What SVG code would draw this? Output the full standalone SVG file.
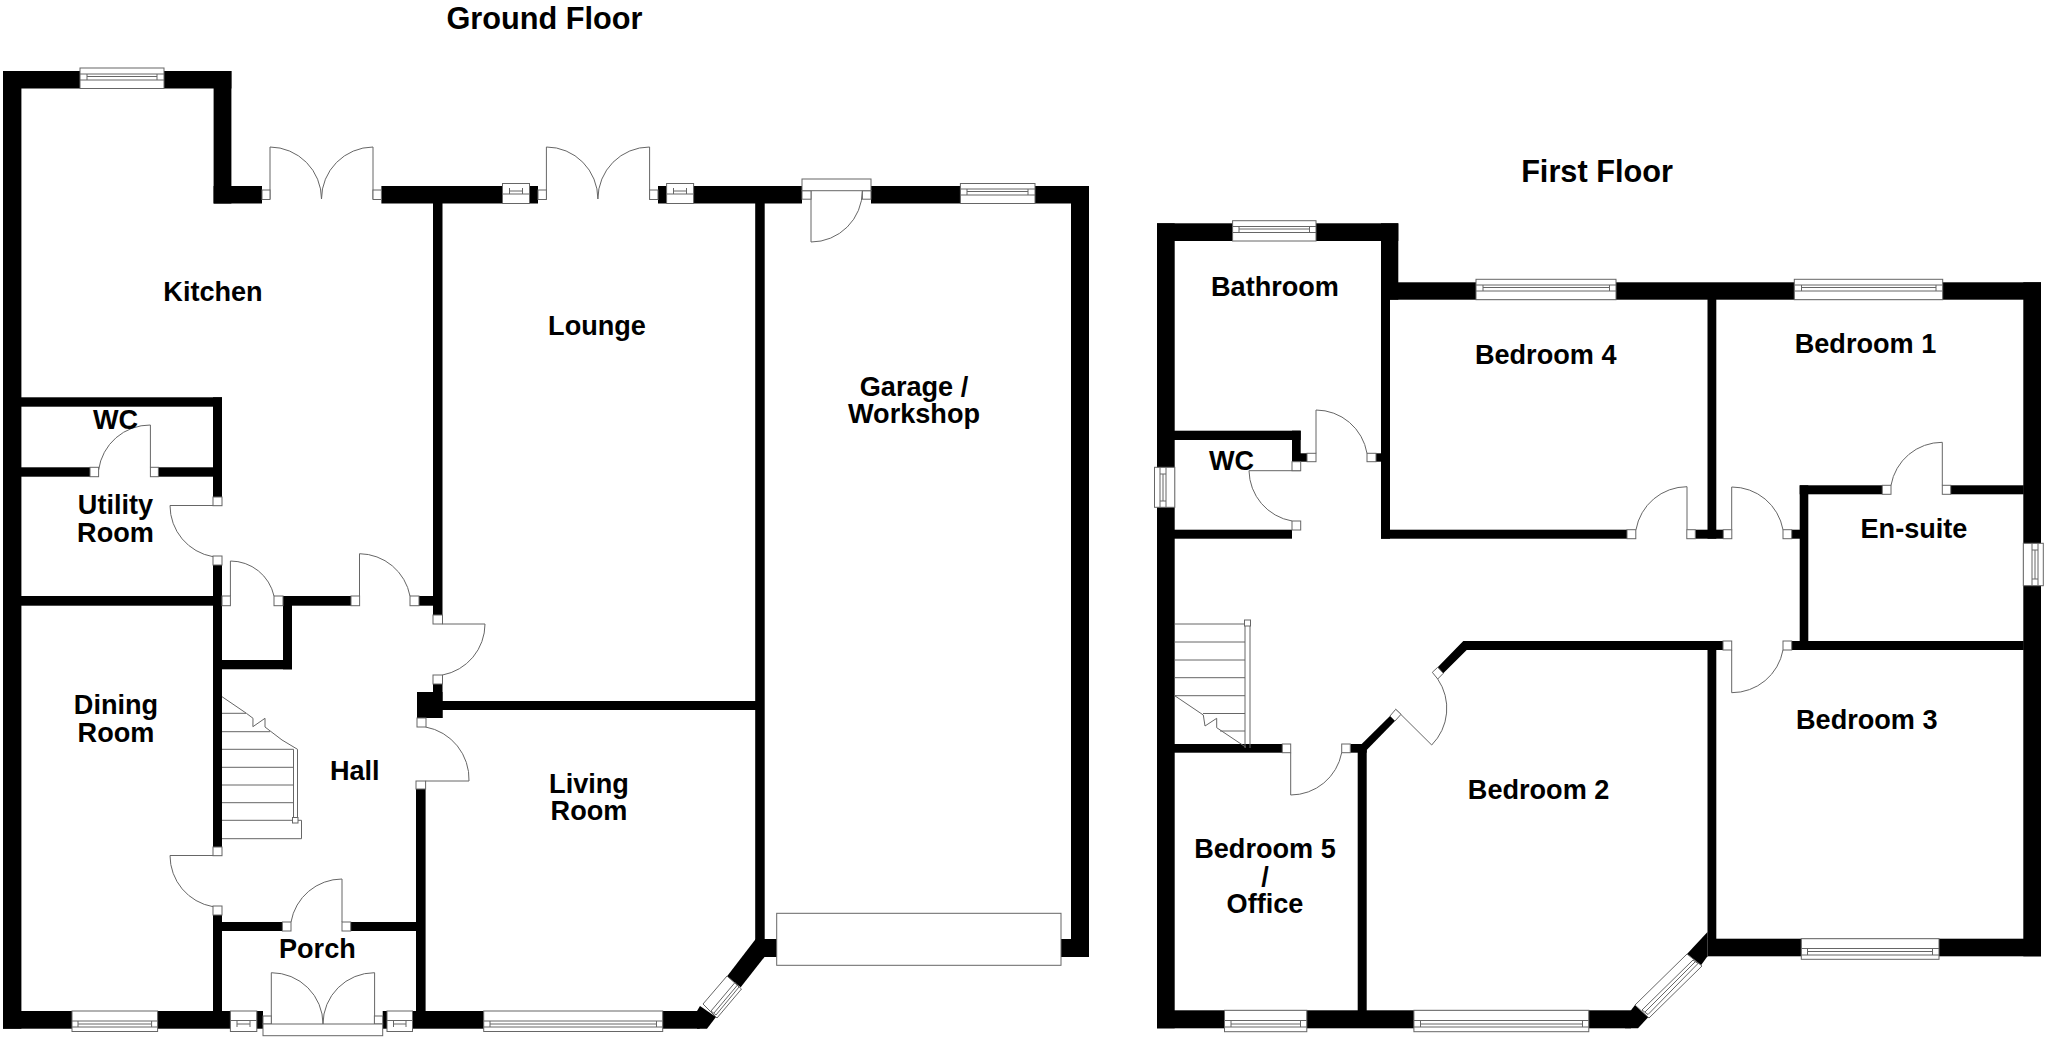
<svg xmlns="http://www.w3.org/2000/svg" width="2048" height="1038" viewBox="0 0 2048 1038">
<style>
.wall{fill:#000}
.ln{fill:none;stroke:#666;stroke-width:1}
.wh{fill:#fff;stroke:#666;stroke-width:1}
text{font-family:"Liberation Sans",Arial,sans-serif;font-weight:700;font-size:27.1px;fill:#000;text-anchor:middle}
.title{font-size:30.7px}
</style>
<rect width="2048" height="1038" fill="#fff"/>
<g id="ground-walls" class="wall">
<rect x="3" y="71" width="18.4" height="957.7"/>
<rect x="3" y="71" width="228.4" height="17.5"/>
<rect x="213.6" y="71" width="17.8" height="132.5"/>
<rect x="213.6" y="186" width="48.4" height="17.5"/>
<rect x="381.4" y="186" width="156.6" height="17.5"/>
<rect x="658" y="186" width="144" height="17.5"/>
<rect x="871" y="186" width="218" height="17.5"/>
<rect x="433" y="203" width="9.5" height="412"/>
<rect x="755.2" y="203" width="9.5" height="754"/>
<rect x="1071" y="186" width="18" height="771"/>
<rect x="764" y="939" width="13" height="18"/>
<rect x="1061" y="939" width="28" height="18"/>
<rect x="21" y="397.3" width="201" height="9.4"/>
<rect x="213" y="397.3" width="9" height="99.7"/>
<rect x="21" y="467.3" width="69" height="9.4"/>
<rect x="158" y="467.3" width="55" height="9.4"/>
<rect x="213" y="565" width="9" height="282"/>
<rect x="213" y="915" width="9" height="100"/>
<rect x="21" y="596" width="192" height="9.7"/>
<rect x="283" y="596" width="68" height="9.7"/>
<rect x="419" y="596" width="14" height="9.7"/>
<rect x="283" y="596" width="9" height="73.3"/>
<rect x="222" y="660" width="70" height="9.3"/>
<rect x="433" y="684" width="9.5" height="34"/>
<rect x="417" y="692" width="25.5" height="26"/>
<rect x="442" y="701" width="315" height="9"/>
<rect x="416" y="789" width="9.6" height="223"/>
<rect x="222" y="922" width="60.4" height="9"/>
<rect x="350.7" y="922" width="65.3" height="9"/>
<rect x="3" y="1011" width="260" height="17.7"/>
<rect x="382.7" y="1011" width="317" height="17.7"/>
<polygon points="755.7,939 764.7,956.7 740.7,987.3 726.7,976.7"/>
<polygon points="697,1011 700,1006 716,1017 707,1028.7 697,1028.7"/>
</g>
<g id="first-walls" class="wall">
<rect x="1157" y="223.3" width="17.7" height="805"/>
<rect x="1157" y="223.3" width="241.3" height="17.7"/>
<rect x="1381" y="223.3" width="17.3" height="76.4"/>
<rect x="1381" y="282.3" width="660" height="17.4"/>
<rect x="2023.3" y="282.3" width="17.7" height="674"/>
<rect x="1381" y="282.3" width="9" height="256.4"/>
<rect x="1381" y="529.7" width="246" height="9"/>
<rect x="1707.5" y="299" width="8.8" height="239.7"/>
<rect x="1695.3" y="529.7" width="27.7" height="9"/>
<rect x="1174" y="430.7" width="126.7" height="9.3"/>
<rect x="1292" y="430.7" width="8.7" height="31"/>
<rect x="1292" y="453.3" width="15" height="8.4"/>
<rect x="1376" y="453.3" width="5" height="8.4"/>
<rect x="1174" y="529.7" width="118" height="9"/>
<rect x="1799.7" y="485.3" width="82.6" height="9"/>
<rect x="1950.7" y="485.3" width="73" height="9"/>
<rect x="1799.7" y="485.3" width="8.6" height="164.7"/>
<rect x="1791.7" y="529.7" width="8.3" height="9"/>
<rect x="1791.7" y="641" width="232" height="9"/>
<polygon points="1437.7,667.3 1463.3,641 1723,641 1723,650 1466.7,650 1443.3,673.3"/>
<rect x="1707.5" y="650" width="8.8" height="289"/>
<rect x="1174" y="744" width="108.3" height="8.7"/>
<rect x="1350.3" y="744" width="16.4" height="8.7"/>
<rect x="1357.7" y="744" width="9" height="267"/>
<polygon points="1390,716 1395,721 1366.7,750 1361.7,744"/>
<rect x="1157" y="1010.3" width="474" height="18"/>
<polygon points="1631,1010.3 1635,1005 1648.4,1017 1638,1028.3 1625,1028.3"/>
<polygon points="1687,954 1707.5,932 1707.5,956.3 1700.5,966"/>
<rect x="1707.5" y="938.7" width="333.5" height="17.6"/>
</g>
<g id="ground-windows">
<rect class="wh" x="80" y="68" width="84" height="20.5"/><path class="ln" d="M80 74H164M80 80H164M87 74V80M157 74V80M87 76.5H157"/>
<rect class="wh" x="502.5" y="183.5" width="27" height="20"/><path class="ln" d="M502.5 194H529.5M509.5 188V194M522.5 188V194M509.5 191H522.5"/>
<rect class="wh" x="666.6" y="183.5" width="27" height="20"/><path class="ln" d="M666.6 194H693.6M673.5 188V194M686.5 188V194M673.5 191H686.5"/>
<rect class="wh" x="960.4" y="183.5" width="74.6" height="20"/><path class="ln" d="M960.4 189H1035M960.4 195H1035M967 189V195M1028 189V195M967 191.5H1028"/>
<rect class="wh" x="72" y="1011" width="85.6" height="20.5"/><path class="ln" d="M72 1021H157.6M72 1027H157.6M78 1021V1027M151.6 1021V1027M78 1024H151.6"/>
<rect class="wh" x="230.4" y="1011" width="26.4" height="20.5"/><path class="ln" d="M230.4 1020.5H256.8M237 1020.5V1027M250 1020.5V1027M237 1024H250"/>
<rect class="wh" x="387" y="1011" width="25.5" height="20.5"/><path class="ln" d="M387 1020.5H412.5M393.5 1020.5V1027M406 1020.5V1027M393.5 1024H406"/>
<rect class="wh" x="483.7" y="1011" width="179" height="20.5"/><path class="ln" d="M483.7 1021H662.7M483.7 1027H662.7M490 1021V1027M656.5 1021V1027M490 1024H656.5"/>
<polygon class="wh" points="703,1004 727,976 741.5,989 717,1018"/><path class="ln" d="M711,1011 735,982.5M716,1015 739,987M714,1013 737.5,985M711,1011 716,1015M735,982.5 739,987"/>
</g>
<g id="first-windows">
<rect class="wh" x="1232.6" y="220.7" width="83.4" height="20.3"/><path class="ln" d="M1232.6 226.5H1316M1232.6 232.5H1316M1239 226.5V232.5M1309.5 226.5V232.5M1239 229H1309.5"/>
<rect class="wh" x="1476" y="279.3" width="140" height="20.4"/><path class="ln" d="M1476 285H1616M1476 291H1616M1483 285V291M1609.5 285V291M1483 287.5H1609.5"/>
<rect class="wh" x="1794.3" y="279.3" width="148.4" height="20.4"/><path class="ln" d="M1794.3 285H1942.7M1794.3 291H1942.7M1801.5 285V291M1936 285V291M1801.5 287.5H1936"/>
<rect class="wh" x="1154.5" y="467.3" width="20.3" height="40"/><path class="ln" d="M1160 467.3V507.3M1166 467.3V507.3M1160 474H1166M1160 501H1166M1163 474V501"/>
<rect class="wh" x="2023.3" y="543.3" width="20" height="42.4"/><path class="ln" d="M2032 543.3V585.7M2038 543.3V585.7M2032 550H2038M2032 579H2038M2035 550V579"/>
<rect class="wh" x="1224.5" y="1010.3" width="82.3" height="21.4"/><path class="ln" d="M1224.5 1020.5H1306.8M1224.5 1027H1306.8M1231 1020.5V1027M1300.5 1020.5V1027M1231 1024H1300.5"/>
<rect class="wh" x="1413.9" y="1010.3" width="174.9" height="21.4"/><path class="ln" d="M1413.9 1020.5H1588.8M1413.9 1027H1588.8M1420.5 1020.5V1027M1582.5 1020.5V1027M1420.5 1024H1582.5"/>
<rect class="wh" x="1801.3" y="938.7" width="137.7" height="20.6"/><path class="ln" d="M1801.3 948.5H1939M1801.3 955H1939M1807.5 948.5V955M1932.5 948.5V955M1807.5 951.5H1932.5"/>
<polygon class="wh" points="1635,1005 1687,954 1702,966 1649,1018"/><path class="ln" d="M1642,1010 1693,960M1648,1014.5 1698,963.5M1645,1012 1695.5,961.5M1642,1010 1648,1014.5M1693,960 1698,963.5"/>
</g>
<g id="ground-doors">
<path class="ln" d="M270 199V147A52 52 0 0 1 321.5 199M373 199V147A52 52 0 0 0 321.5 199"/>
<rect class="wh" x="262" y="190" width="8" height="9.5"/><rect class="wh" x="373" y="190" width="8.4" height="9.5"/>
<path class="ln" d="M546.4 199V147A51.5 52 0 0 1 597.9 199M649.6 199V147A51.7 52 0 0 0 597.9 199"/>
<rect class="wh" x="538" y="190" width="8.4" height="9.5"/><rect class="wh" x="649.6" y="190" width="8.4" height="9.5"/>
<path class="ln" d="M811 190.7V242A51.4 51.4 0 0 0 862.4 190.7"/>
<rect class="wh" x="802" y="190.7" width="9" height="8.5"/><rect class="wh" x="862.4" y="190.7" width="8.6" height="8.5"/>
<rect class="wh" x="802" y="179" width="69" height="11.7"/>
<path class="ln" d="M150.4 467.3V425A52 52 0 0 0 98.6 470"/>
<rect class="wh" x="90" y="467.3" width="8.6" height="9.4"/><rect class="wh" x="150.4" y="467.3" width="8" height="9.4"/>
<path class="ln" d="M222 505.5H170A52 52 0 0 0 213 556.7"/>
<rect class="wh" x="213" y="497" width="9" height="8.7"/><rect class="wh" x="213" y="556" width="9" height="9"/>
<path class="ln" d="M222 855.5H170A52 52 0 0 0 213 906.7"/>
<rect class="wh" x="213" y="847" width="9" height="8.7"/><rect class="wh" x="213" y="906" width="9" height="9"/>
<path class="ln" d="M230.4 596V561A44.7 44.7 0 0 1 274 596"/>
<rect class="wh" x="222" y="596" width="8.4" height="9.7"/><rect class="wh" x="274" y="596" width="9" height="9.7"/>
<path class="ln" d="M359.5 596V553.7A52 52 0 0 1 410 596"/>
<rect class="wh" x="351" y="596" width="8.6" height="9.7"/><rect class="wh" x="410" y="596" width="9" height="9.7"/>
<path class="ln" d="M442.5 624H485A52 52 0 0 1 442.5 675"/>
<rect class="wh" x="433" y="615" width="9.5" height="9"/><rect class="wh" x="433" y="675" width="9.5" height="9"/>
<path class="ln" d="M425.6 781H469A53 53 0 0 0 425.6 727"/>
<rect class="wh" x="417" y="718" width="9" height="9"/><rect class="wh" x="416" y="781" width="9.6" height="8"/>
<path class="ln" d="M342 922V879A52 52 0 0 0 291 922"/>
<rect class="wh" x="282.4" y="922" width="8.6" height="9"/><rect class="wh" x="342" y="922" width="8.7" height="9"/>
<path class="ln" d="M271.3 1024V972.7A51.7 51.3 0 0 1 323 1024M374.6 1024V972.7A51.6 51.3 0 0 0 323 1024"/>
<rect class="wh" x="263" y="1016" width="8.3" height="8"/><rect class="wh" x="374.4" y="1016" width="8.3" height="8"/>
<rect class="wh" x="263" y="1024" width="119.7" height="11.7"/>
<rect id="garage-door" class="wh" x="776.7" y="913.3" width="284.3" height="52"/>
</g>
<g id="first-doors">
<path class="ln" d="M1316 453.3V410A52 52 0 0 1 1367 453.3"/>
<rect class="wh" x="1307" y="453.3" width="9" height="8.4"/><rect class="wh" x="1367" y="453.3" width="9" height="8.4"/>
<path class="ln" d="M1300.7 470.7H1249A52 52 0 0 0 1292 521"/>
<rect class="wh" x="1292" y="461.7" width="8.7" height="9"/><rect class="wh" x="1292" y="521" width="8.7" height="9"/>
<path class="ln" d="M1687 529.7V486.7A52 52 0 0 0 1636 529.7"/>
<rect class="wh" x="1627" y="529.7" width="8.8" height="9"/><rect class="wh" x="1686.8" y="529.7" width="8.5" height="9"/>
<path class="ln" d="M1731.7 529.7V487A52 52 0 0 1 1783 529.7"/>
<rect class="wh" x="1723.3" y="529.7" width="8.5" height="9"/><rect class="wh" x="1783" y="529.7" width="8.7" height="9"/>
<path class="ln" d="M1942.3 485.3V442.3A52 52 0 0 0 1891 485.3"/>
<rect class="wh" x="1882.3" y="485.3" width="8.7" height="9"/><rect class="wh" x="1942.3" y="485.3" width="8.4" height="9"/>
<path class="ln" d="M1731.7 650V692.7A52 52 0 0 0 1783 650"/>
<rect class="wh" x="1723" y="641" width="8.7" height="9"/><rect class="wh" x="1783" y="641" width="8.7" height="9"/>
<path class="ln" d="M1290.7 752.7V795A52 52 0 0 0 1341.7 752.7"/>
<rect class="wh" x="1282.3" y="744" width="8.4" height="8.7"/><rect class="wh" x="1341.7" y="744" width="8.6" height="8.7"/>
<path class="ln" d="M1395.7 709.3L1431.7 745A52 52 0 0 0 1437.7 679"/>
<polygon class="wh" points="1390,716 1395.7,709.3 1401,714.3 1395,721"/>
<polygon class="wh" points="1432.3,672.3 1437.7,667.3 1443.3,673.3 1437.7,679"/>
</g>
<g id="stairs">
<path class="ln" d="M222 713.3H246M222 731.7H270M222 749.3H293.5M222 767.3H293.5M222 785H293.5M222 802.7H293.5M222 820.3H301.5V838.7H222M293.5 749.3V820.3M297.5 749.3V820.3M222 696.7L246.4 713.3 253 718.3 252.9 726.7 265 718.3 265 727 282 740 297.5 749.3"/>
<rect class="wh" x="292.5" y="817.5" width="5.5" height="5.5"/>
<path class="ln" d="M1174.7 624H1245M1174.7 642H1245M1174.7 660H1245M1174.7 677.7H1245M1174.7 695.7H1245M1203 713.5H1245M1220 731H1245M1245 624V748M1250 624V748M1174.7 695.7L1203.3 715 1205 726 1216.7 718.3 1216.7 727.7 1246 747.3"/>
<rect class="wh" x="1244.5" y="620" width="6" height="6"/>
</g>
<g id="labels">
<text class="title" x="544.5" y="29">Ground Floor</text>
<text class="title" x="1597" y="182">First Floor</text>
<text x="213" y="300.5">Kitchen</text>
<text x="115.5" y="429">WC</text>
<text x="115.5" y="514">Utility</text>
<text x="115.5" y="542">Room</text>
<text x="116" y="714">Dining</text>
<text x="116" y="741.5">Room</text>
<text x="597" y="335">Lounge</text>
<text x="914" y="396">Garage /</text>
<text x="914" y="422.5">Workshop</text>
<text x="354.8" y="780">Hall</text>
<text x="589" y="792.7">Living</text>
<text x="589" y="820">Room</text>
<text x="317.4" y="958">Porch</text>
<text x="1275" y="296">Bathroom</text>
<text x="1545.7" y="364">Bedroom 4</text>
<text x="1231.6" y="470">WC</text>
<text x="1865.5" y="353">Bedroom 1</text>
<text x="1914" y="538.3">En-suite</text>
<text x="1538.6" y="799">Bedroom 2</text>
<text x="1866.8" y="729">Bedroom 3</text>
<text x="1265" y="858">Bedroom 5</text>
<text x="1265" y="885.5">/</text>
<text x="1265" y="913">Office</text>
</g>
</svg>
